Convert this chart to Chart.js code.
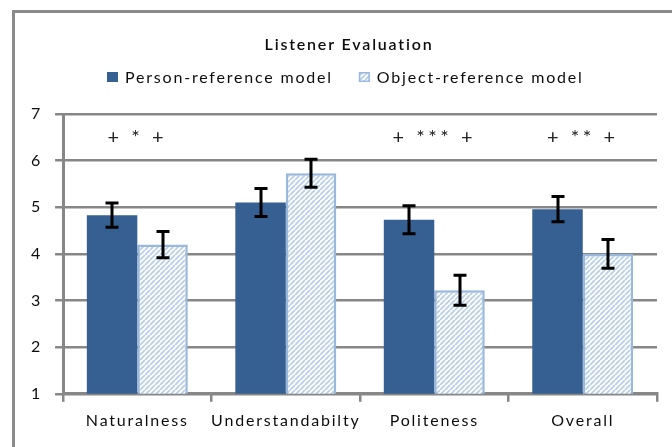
<!DOCTYPE html>
<html>
<head>
<meta charset="utf-8">
<script src="https://cdn.jsdelivr.net/npm/chart.js@4.4.1/dist/chart.umd.min.js"></script>
<style>
  html, body { margin: 0; padding: 0; background: #fff; }
  #wrap { width: 672px; height: 447px; }
</style>
</head>
<body>
<div id="wrap"><canvas id="c" width="672" height="447"></canvas></div>
<script>
// Listener ratings (1-7 scale), mean and error per category
const categories = ['Naturalness', 'Understandabilty', 'Politeness', 'Overall'];
const seriesNames = ['Person-reference model', 'Object-reference model'];
const personMeans = [4.83, 5.10, 4.73, 4.96];
const personErrors = [0.26, 0.30, 0.30, 0.27];
const objectMeans = [4.20, 5.73, 3.22, 4.00];
const objectErrors = [0.28, 0.30, 0.32, 0.31];
const significance = ['+ * +', '', '+ *** +', '+ ** +'];
const yTicks = [1, 2, 3, 4, 5, 6, 7];
const chartTitle = 'Listener Evaluation';

const FONT = 'Lato, "Open Sans", sans-serif';
const INK = '#0d0d0d';
const GRID = '#878787';
const DARK = '#365f92';
const LIGHT = '#9ab8dc';
const SPACING = '1.8px';

function hatchPattern() {
  const s = 5;
  const c = document.createElement('canvas');
  c.width = s; c.height = s;
  const g = c.getContext('2d');
  g.fillStyle = '#ffffff';
  g.fillRect(0, 0, s, s);
  g.strokeStyle = '#b9cfea';
  g.lineWidth = 1.9;
  g.beginPath();
  for (let k = -1; k <= 1; k++) {
    g.moveTo(k * s, s);
    g.lineTo(k * s + s, 0);
  }
  g.stroke();
  return g.createPattern(c, 'repeat');
}

// Wide text tracking for every label the chart draws
const tracking = {
  id: 'tracking',
  beforeUpdate(ch) { ch.ctx.letterSpacing = SPACING; },
  beforeLayout(ch) { ch.ctx.letterSpacing = SPACING; },
  beforeDraw(ch) { ch.ctx.letterSpacing = SPACING; }
};

// Outer frame around the whole figure
const frame = {
  id: 'frame',
  beforeDraw(ch) {
    const ctx = ch.ctx;
    ctx.save();
    ctx.fillStyle = '#fff';
    ctx.fillRect(0, 0, ch.width, ch.height);
    ctx.strokeStyle = '#8a8a8a';
    ctx.lineWidth = 3;
    ctx.strokeRect(13.5, 11.5, 800, 600);
    ctx.restore();
  }
};

// Title and a single-row legend above the plot
const header = {
  id: 'header',
  afterDraw(ch) {
    const ctx = ch.ctx;
    ctx.save();
    ctx.letterSpacing = SPACING;
    ctx.fillStyle = INK;
    ctx.textBaseline = 'middle';
    ctx.textAlign = 'center';
    ctx.font = '600 16px ' + FONT;
    ctx.fillText(chartTitle, 349, 45);

    ctx.textAlign = 'left';
    ctx.font = '16px ' + FONT;
    let x = 107;
    const cy = 77;
    ch.data.datasets.forEach((ds, i) => {
      ctx.fillStyle = ds.backgroundColor;
      ctx.fillRect(x, cy - 5, 11, 10);
      if (ds.borderWidth) {
        ctx.strokeStyle = ds.borderColor;
        ctx.lineWidth = 1.5;
        ctx.strokeRect(x + 0.75, cy - 4.25, 9.5, 8.5);
      }
      ctx.fillStyle = INK;
      ctx.fillText(ds.label, x + 18, cy + 1);
      x += 18 + ctx.measureText(ds.label).width + 26;
    });
    ctx.restore();
  }
};

// Error bars on top of each bar
const errorBars = {
  id: 'errorBars',
  afterDatasetsDraw(ch) {
    const ctx = ch.ctx;
    const y = ch.scales.y;
    const errs = [personErrors, objectErrors];
    ctx.save();
    ctx.strokeStyle = '#000';
    ctx.lineWidth = 3;
    ch.data.datasets.forEach((ds, i) => {
      ch.getDatasetMeta(i).data.forEach((bar, j) => {
        const v = ds.data[j], e = errs[i][j];
        const top = y.getPixelForValue(v + e);
        const bot = y.getPixelForValue(v - e);
        const x = Math.round(bar.x);
        ctx.beginPath();
        ctx.moveTo(x, top); ctx.lineTo(x, bot);
        ctx.moveTo(x - 6.5, top); ctx.lineTo(x + 6.5, top);
        ctx.moveTo(x - 6.5, bot); ctx.lineTo(x + 6.5, bot);
        ctx.stroke();
      });
    });
    ctx.restore();
  }
};

// Significance markers above each category
const sigMarks = {
  id: 'sigMarks',
  afterDatasetsDraw(ch) {
    const ctx = ch.ctx;
    const xs = ch.scales.x, ys = ch.scales.y;
    ctx.save();
    ctx.fillStyle = '#222';
    ctx.font = '20px ' + FONT;
    ctx.letterSpacing = '3.5px';
    ctx.textAlign = 'center';
    ctx.textBaseline = 'middle';
    significance.forEach((s, i) => {
      if (!s) return;
      ctx.fillText(s, xs.getPixelForValue(i), ys.getPixelForValue(6.5));
    });
    ctx.restore();
  }
};

new Chart(document.getElementById('c'), {
  type: 'bar',
  data: {
    labels: categories,
    datasets: [
      {
        label: seriesNames[0],
        data: personMeans,
        backgroundColor: DARK,
        borderWidth: 0
      },
      {
        label: seriesNames[1],
        data: objectMeans,
        backgroundColor: hatchPattern(),
        borderColor: LIGHT,
        borderWidth: 2.5
      }
    ]
  },
  plugins: [tracking, frame, errorBars, sigMarks, header],
  options: {
    responsive: false,
    animation: false,
    events: [],
    categoryPercentage: 0.68,
    barPercentage: 1.0,
    layout: { padding: { left: 18, right: 15, top: 114, bottom: 8 } },
    plugins: {
      tooltip: { enabled: false },
      title: { display: false },
      legend: { display: false }
    },
    scales: {
      x: {
        grid: {
          offset: true,
          drawOnChartArea: false,
          drawTicks: true,
          tickLength: 8,
          color: GRID,
          lineWidth: 2.5
        },
        border: { display: true, color: GRID, width: 3 },
        ticks: {
          color: INK,
          font: { family: FONT, size: 16 },
          padding: 9,
          maxRotation: 0,
          autoSkip: false
        }
      },
      y: {
        min: 1,
        max: 7,
        afterBuildTicks(scale) { scale.ticks = yTicks.map(v => ({ value: v })); },
        grid: {
          color: GRID,
          lineWidth: 2.5,
          tickLength: 8
        },
        border: { display: true, color: GRID, width: 3 },
        ticks: {
          color: INK,
          font: { family: FONT, size: 16 },
          padding: 13
        }
      }
    }
  }
});
</script>
</body>
</html>
